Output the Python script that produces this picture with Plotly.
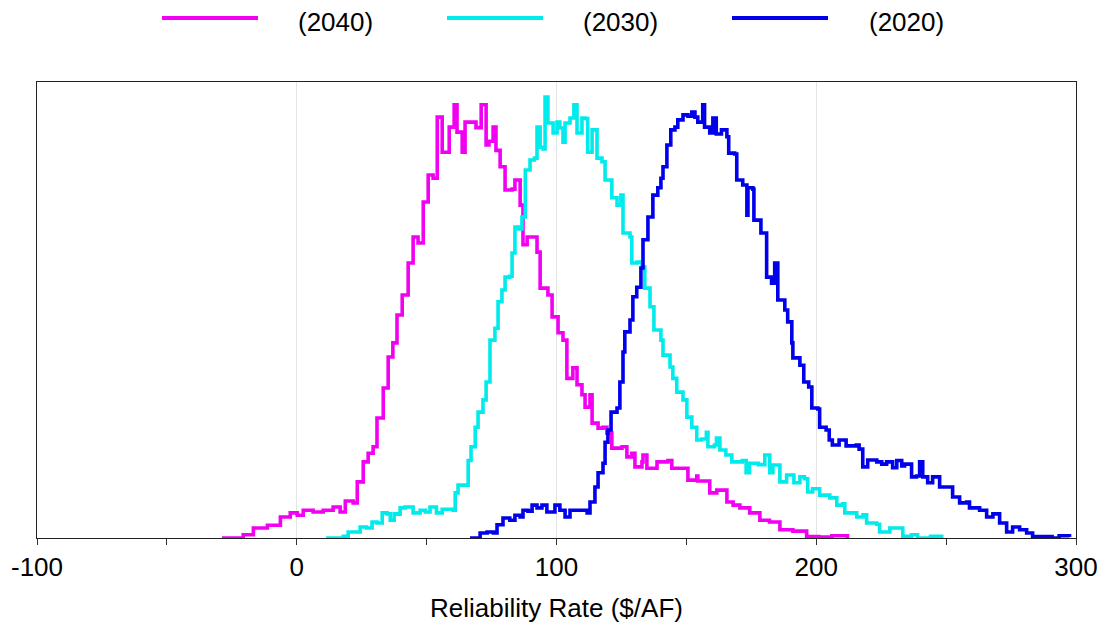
import plotly.graph_objects as go

# ---- Data ----
series_names = ["(2040)", "(2030)", "(2020)"]
series_colors = ["#F200F2", "#00EBEB", "#0000EA"]

x_2040 = [-28.8, -20.6, -16.7, -11.3, -6.3, -2.5, 0.2, 2.5, 6.3, 10.2, 14, 16.7, 18.7, 21.7, 23.3, 25.6,
          27.5, 29.4, 30.9, 33.3, 35.2, 37, 38.6, 40.6, 42.9, 44.8, 46.7, 48.7, 50.6, 52.5, 54.1, 56,
          57.9, 58.7, 60.6, 61.7, 63.7, 64.8, 67.5, 69, 71, 72.9, 74, 75.6, 76.7, 78.3, 80.2, 82.9,
          84, 86, 87.1, 88.7, 91, 92.5, 93.7, 96.7, 98.3, 100.6, 102.5, 104, 106.3, 107.9, 109.8, 111,
          112.9, 113.7, 116, 117.9, 119.4, 121.3, 125.2, 127.1, 129, 130.2, 132.9, 133.3, 134.8, 137.1,
          138.7, 142.9, 144.4, 147.5, 150.6, 154, 154.4, 159, 161.7, 165.6, 168, 170.6, 174.4, 178.3,
          182, 186, 191, 196.3, 201, 206, 212]
y_2040 = [0, 0.7, 2.2, 2.8, 4.6, 5.5, 5.0, 6.1, 5.7, 6.1, 6.8, 5.7, 8.1, 7.7, 12.3, 16.7,
          18.6, 20, 26.3, 32.9, 39.7, 42.8, 48.9, 53.3, 60.3, 66, 64.7, 73.7, 79.6, 78.9, 92.3, 84.6,
          84.6, 90.1, 95, 89, 84.6, 91.2, 91.2, 90, 95, 86.2, 87, 90.1, 85, 81.4, 76.3, 76.5,
          78.5, 73, 64.3, 66, 66, 62.7, 54.8, 53.3, 48.5, 45, 43.4, 35, 37.3, 33.6, 31.4, 28.7,
          31.4, 25.2, 24.1, 24.3, 23, 19.7, 20, 17.8, 18.6, 15.6, 16.7, 18.2, 15.3, 15.3,
          16.7, 17, 15.3, 15.3, 12.7, 13.6, 12.5, 9.9, 10.5, 7.9, 7.2, 6.6, 5.5, 3.9,
          3.5, 1.8, 1.5, 0.3, 0.2, 0.5, 0]

x_2030 = [11.3, 17.9, 19.8, 23.3, 24.4, 26.9, 29, 30.9, 32.9, 34.8, 36, 37.5, 38.6, 39.8, 41.7, 44.8,
          47.5, 49.5, 51.3, 53.8, 56, 60.2, 61, 62.1, 65.5, 66, 67.1, 68.7, 69.8, 71.7, 72.9, 74.4,
          76.3, 77.5, 79, 80.2, 82, 82.9, 84, 85.4, 86.7, 88, 89.8, 91.5, 92.5, 93.7, 94.8, 95.6,
          96.7, 98.7, 100.2, 101.3, 102.5, 103.3, 105.2, 106.7, 107.9, 109.8, 111, 112, 113.7, 115.6,
          117.5, 118.7, 120.6, 121.3, 123.3, 124.8, 125.6, 128.3, 129, 131, 132.9, 134, 136, 137.5,
          140.2, 141, 143.7, 144.8, 146.3, 148.7, 150.2, 152.1, 154, 155.8, 157.7, 158.3, 160.8, 161.6,
          162.9, 165.2, 167.5, 171.5, 173, 174.3, 177.7, 180.2, 182.1, 183.3, 186, 188.6, 191.4, 193.7,
          195.5, 196.7, 198.6, 201.3, 205.2, 207.9, 210.2, 211, 215.6, 218, 219.4, 223.3, 224.4, 228.3,
          233.3, 236.7, 239, 244, 248.3]
y_2030 = [0, 0.4, 1.3, 1.3, 2.4, 2.2, 3.5, 3.3, 5.5, 5.3, 3.9, 5.3, 5.2, 6.6, 6.8, 5.5,
          6.1, 5.7, 6.8, 5.5, 6.3, 6.1, 9.9, 11.6, 11.6, 17, 20, 24.3, 27.6, 30.3, 34.2, 43.4,
          46, 51.8, 54.4, 57.2, 57.4, 62.5, 68.2, 67.8, 70.4, 80.7, 82.9, 83.3, 90.1, 85.7, 85.3, 96.7,
          91, 88.8, 91.2, 89.9, 86.8, 91, 92.1, 95, 88.8, 92.1, 92, 84.6, 89.5, 83.3,
          82.5, 78.5, 78.5, 74.6, 73, 75.2, 66.9, 66, 60.3, 60.5, 59.4, 54.8, 50.7, 45.6,
          43.4, 40.1, 37.5, 35, 32, 30.3, 26.5, 24.3, 21.5, 21.7, 23.2, 20, 20.4, 21.9,
          19.3, 18.2, 16.7, 17, 14.3, 16.4, 16.1, 18.2, 14.3, 16, 12.3, 13.8, 12.1, 13.4,
          13, 10.1, 10.8, 9.4, 8.8, 7.2, 7.5, 5.5, 4.6, 5.1, 3.3, 3, 1.3, 2.2,
          0.4, 0.7, 0, 0.4, 0]

x_2020 = [66.7, 70.6, 73.3, 75.7, 77.1, 79.4, 82, 84, 86, 87.1, 89, 90.6, 92.5, 94.4, 96.3, 99.4,
          101.3, 103.3, 105.2, 110.2, 111.8, 112.9, 114.8, 116, 117.9, 118.7, 119.8, 121, 123.3, 124.4,
          125.6, 126.3, 128.3, 129.4, 130.9, 132.5, 133.3, 135.2, 137.1, 139, 140.2, 141, 142.5, 144,
          145.6, 146.7, 148.7, 150.6, 152.1, 153.3, 154.4, 156.3, 157, 159, 160.2, 161.5, 163.5, 165.6,
          166.3, 168.6, 169.4, 171.7, 173.3, 173.7, 175.6, 176, 178.7, 180.9, 180.9, 182.8, 184, 185.2,
          187.9, 189, 190.6, 191, 193.7, 195.2, 197.1, 198.3, 200.6, 201.3, 203.8, 205, 206.2, 208.8,
          211.5, 215.4, 216.5, 217.9, 219.8, 223.3, 225.2, 227.1, 229.4, 231, 232.9, 234, 236.7, 238.6,
          239.8, 241, 242.9, 244.8, 247.5, 250.6, 252.5, 255.2, 257.9, 259, 262.9, 265.6, 268, 270.6,
          273.3, 275.6, 278.3, 281, 283.3, 288.5, 290.8, 293.5, 297.5]
y_2020 = [0, 1.1, 1.3, 1.1, 2.9, 4.4, 3.9, 5, 4.6, 6.1, 5.9, 7.2, 6.6, 7.2, 5.7, 7.2,
          6.1, 4.6, 6.1, 6.1, 5.5, 7.9, 11.2, 14.3, 16.4, 21, 23.7, 27.6, 28.5, 34.2,
          40.8, 45.2, 47.8, 52.9, 55, 59.2, 65.4, 70.4, 75.2, 76.8, 78.9, 81.4, 86.2, 89.5,
          90.1, 91.7, 92.8, 92.5, 93.4, 92.3, 91.2, 95, 90.1, 88.8, 92.1, 88.6, 89.5, 88,
          84.4, 84.2, 78.5, 77.4, 70.8, 76.8, 76.5, 69.7, 66.9, 64.3, 57.2, 55.9, 60.3, 52.2,
          50, 47.4, 42.8, 39.5, 37.9, 34.2, 33.1, 28.5, 28.3, 24.3, 23.7, 21.5, 20.4, 21.5,
          20.2, 20.4, 19.5, 15.6, 17.1, 16.7, 16.2, 16.7, 15.4, 17, 15.8, 16.2, 13.4, 13.6,
          16.7, 13.4, 12.1, 13.4, 11.2, 11.2, 9, 7.7, 7.9, 6.6, 6.1, 4.6, 5.3, 3.3,
          1.3, 2.4, 1.8, 1.1, 0.3, 0.3, 0, 0.5, 0.2]

x_tick_values = [-100, 0, 100, 200, 300]
x_tick_labels = ["-100", "0", "100", "200", "300"]
x_title = "Reliability Rate ($/AF)"

FONT = "Liberation Sans, Arial, sans-serif"
OFF = 8  # default page body margin
W, H = 1108 - OFF, 631 - OFF
ML, MR, MT, MB = 37 - OFF, 32, 82 - OFF, 93

fig = go.Figure()
for name, color, xs, ys in zip(series_names, series_colors,
                               [x_2040, x_2030, x_2020], [y_2040, y_2030, y_2020]):
    fig.add_trace(go.Scatter(x=xs, y=ys, mode="lines", name=name,
                             line=dict(color=color, width=3.6, shape="hv"), showlegend=False))

# manual legend (long line samples like the reference); positions in page pixels
pw = W - ML - MR
ph = H - MT - MB
def px_to_paper_x(p):
    return (p - OFF - ML) / pw
def py_to_paper_y(p):
    return (H - MB - (p - OFF)) / ph

leg_line_px = [(162, 258), (447, 543), (732, 828)]
leg_text_px = [297, 582, 868]
leg_line_y = py_to_paper_y(18)
leg_text_y = py_to_paper_y(22)
shapes = []
annotations = []
for (x0, x1), tx, name, color in zip(leg_line_px, leg_text_px, series_names, series_colors):
    shapes.append(dict(type="line", xref="paper", yref="paper",
                       x0=px_to_paper_x(x0), x1=px_to_paper_x(x1), y0=leg_line_y, y1=leg_line_y,
                       line=dict(color=color, width=4)))
    annotations.append(dict(xref="paper", yref="paper", x=px_to_paper_x(tx), y=leg_text_y,
                            xanchor="left", yanchor="middle", text=name, showarrow=False,
                            borderpad=0,
                            font=dict(family=FONT, size=26, color="black")))

fig.update_layout(
    width=W, height=H,
    margin=dict(l=ML, r=MR, t=MT, b=MB, pad=0, autoexpand=False),
    paper_bgcolor="white", plot_bgcolor="white",
    shapes=shapes, annotations=annotations,
    font=dict(family=FONT, size=26, color="black"),
    showlegend=False,
)
fig.update_xaxes(
    range=[-100, 300], tickvals=x_tick_values, ticktext=x_tick_labels,
    automargin=False,
    ticks="outside", ticklen=6, tickcolor="#333333", tickwidth=1,
    minor=dict(dtick=50, tick0=0, ticks="outside", ticklen=6, tickcolor="#333333", showgrid=False),
    showgrid=True, gridcolor="#E3E3E3", gridwidth=1,
    showline=True, linecolor="#222222", linewidth=1, mirror=True,
    zeroline=False,
    tickfont=dict(family=FONT, size=26, color="black"),
    title=dict(text=x_title, font=dict(family=FONT, size=26, color="black"), standoff=17),
)
fig.update_yaxes(
    range=[0, 100], showticklabels=False, ticks="", showgrid=False, zeroline=False,
    automargin=False,
    showline=True, linecolor="#222222", linewidth=1, mirror=True,
)

fig.write_html("out.html")
